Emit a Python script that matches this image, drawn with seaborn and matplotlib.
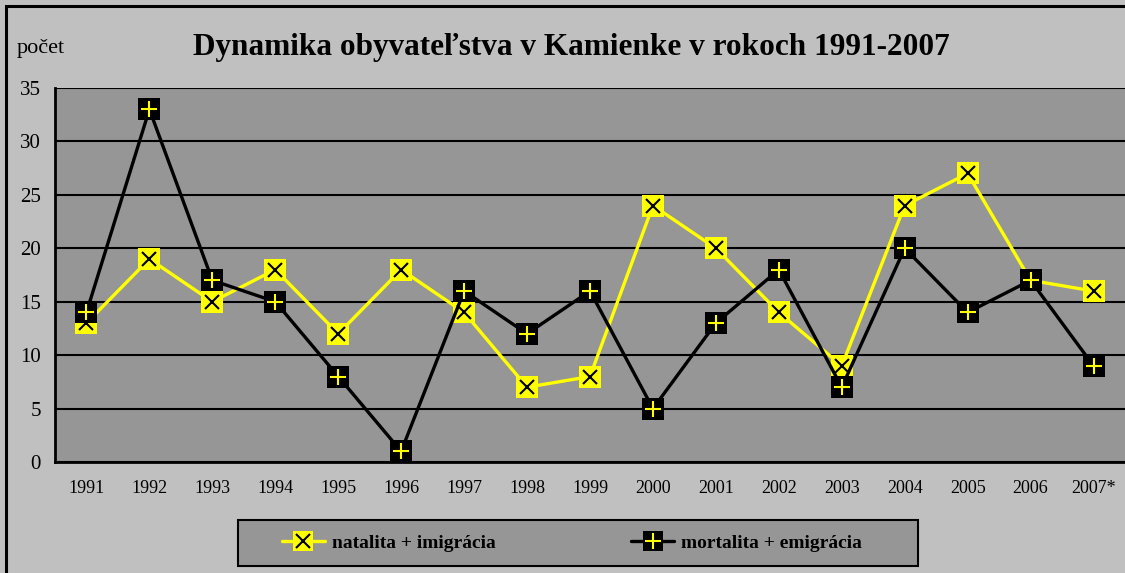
import matplotlib
matplotlib.use("Agg")
import matplotlib.pyplot as plt
import seaborn as sns
import numpy as np
import pandas as pd
from matplotlib.lines import Line2D
from matplotlib.legend_handler import HandlerTuple
from matplotlib.patches import Rectangle

years = ["1991", "1992", "1993", "1994", "1995", "1996", "1997", "1998", "1999",
         "2000", "2001", "2002", "2003", "2004", "2005", "2006", "2007*"]
natalita = [13, 19, 15, 18, 12, 18, 14, 7, 8, 24, 20, 14, 9, 24, 27, 17, 16]
mortalita = [14, 33, 17, 15, 8, 1, 16, 12, 16, 5, 13, 18, 7, 20, 14, 17, 9]
label_nat = "natalita + imigrácia"
label_mor = "mortalita + emigrácia"
title = "Dynamika obyvateľstva v Kamienke v rokoch 1991-2007"
ylabel = "počet"

sns.set_theme(style="white")
plt.rcParams['font.family'] = ['Liberation Serif', 'DejaVu Serif']
plt.rcParams['text.color'] = 'black'
plt.rcParams['xtick.color'] = 'black'
plt.rcParams['ytick.color'] = 'black'
plt.rcParams['axes.labelcolor'] = 'black'

fig = plt.figure(figsize=(11.25, 5.73), dpi=100)
fig.patch.set_facecolor("#C0C0C0")
W, H = 1125, 573
ax = fig.add_axes([55 / W, 1 - 462 / H, (1125 - 55) / W, (462 - 88) / H])
ax.set_facecolor("#969696")

df = pd.DataFrame({"x": np.arange(len(years)), "nat": natalita, "mor": mortalita})

sq = 16.5
sns.lineplot(data=df, x="x", y="nat", ax=ax, color="#FFFF00", lw=2.4,
             marker="s", markersize=sq, markeredgewidth=0, markerfacecolor="#FFFF00", zorder=3)
ax.plot(df["x"], df["nat"], ls="none", marker="x", ms=10.5, mew=1.5, color="black", zorder=4)
sns.lineplot(data=df, x="x", y="mor", ax=ax, color="black", lw=2.4,
             marker="s", markersize=sq, markeredgewidth=0, markerfacecolor="black", zorder=5)
ax.plot(df["x"], df["mor"], ls="none", marker="+", ms=11.5, mew=1.5, color="#FFFF00", zorder=6)

ax.set_xlim(-0.5, len(years) - 0.5)
ax.set_ylim(0, 35)
ax.set_yticks(range(0, 36, 5))
ax.set_xticks(np.arange(len(years)))
ax.set_xticklabels(years, fontsize=13)
ax.set_xticks(np.arange(-0.5, len(years), 1), minor=True)
ax.tick_params(axis="x", which="major", length=0, pad=13, colors="black")
ax.tick_params(axis="x", which="minor", length=5, width=1.5, direction="out", color="black")
ax.tick_params(axis="y", length=6, width=1.5, direction="out", color="black", labelcolor="black",
               labelsize=15, pad=4)
ax.set_xlabel("")
ax.set_ylabel("")
ax.grid(axis="y", color="black", lw=1.5)
ax.set_axisbelow(True)
for s in ["top", "right"]:
    ax.spines[s].set_visible(False)
for s in ["left", "bottom"]:
    ax.spines[s].set_color("black")
    ax.spines[s].set_linewidth(2)

fig.text(571 / W, 1 - 48 / H, title, ha="center", va="center", fontsize=22.5,
         fontweight="bold", color="black")
fig.text(17 / W, 1 - 48 / H, ylabel, ha="left", va="center", fontsize=16, color="black")

# outer border
fig.patches.append(Rectangle((6 / W, -0.1), 1.2, 1 - 6 / H + 0.1, transform=fig.transFigure,
                             fill=False, ec="black", lw=2.2, zorder=10))
# legend box
fig.patches.append(Rectangle((238 / W, 1 - 566 / H), (918 - 238) / W, 46 / H,
                             transform=fig.transFigure, fc="#969696", ec="black", lw=1.5, zorder=1))

h1 = (Line2D([], [], color="#FFFF00", lw=2.4, marker="s", ms=15, mew=0, mfc="#FFFF00"),
      Line2D([], [], ls="none", marker="x", ms=10, mew=1.5, color="black"))
h2 = (Line2D([], [], color="black", lw=2.4, marker="s", ms=15, mew=0, mfc="black"),
      Line2D([], [], ls="none", marker="+", ms=11, mew=1.5, color="#FFFF00"))
leg = fig.legend([h1, h2], [label_nat, label_mor], loc="center",
                 bbox_to_anchor=(572 / W, 1 - 543 / H), ncol=2,
                 handler_map={tuple: HandlerTuple(ndivide=1)},
                 prop={"family": "Liberation Serif", "weight": "bold", "size": 14},
                 frameon=False, handlelength=2.2, handletextpad=0.35,
                 columnspacing=7.0, borderpad=0.5)
for t in leg.get_texts():
    t.set_color("black")

fig.savefig("out.png", dpi=100, facecolor=fig.get_facecolor())
